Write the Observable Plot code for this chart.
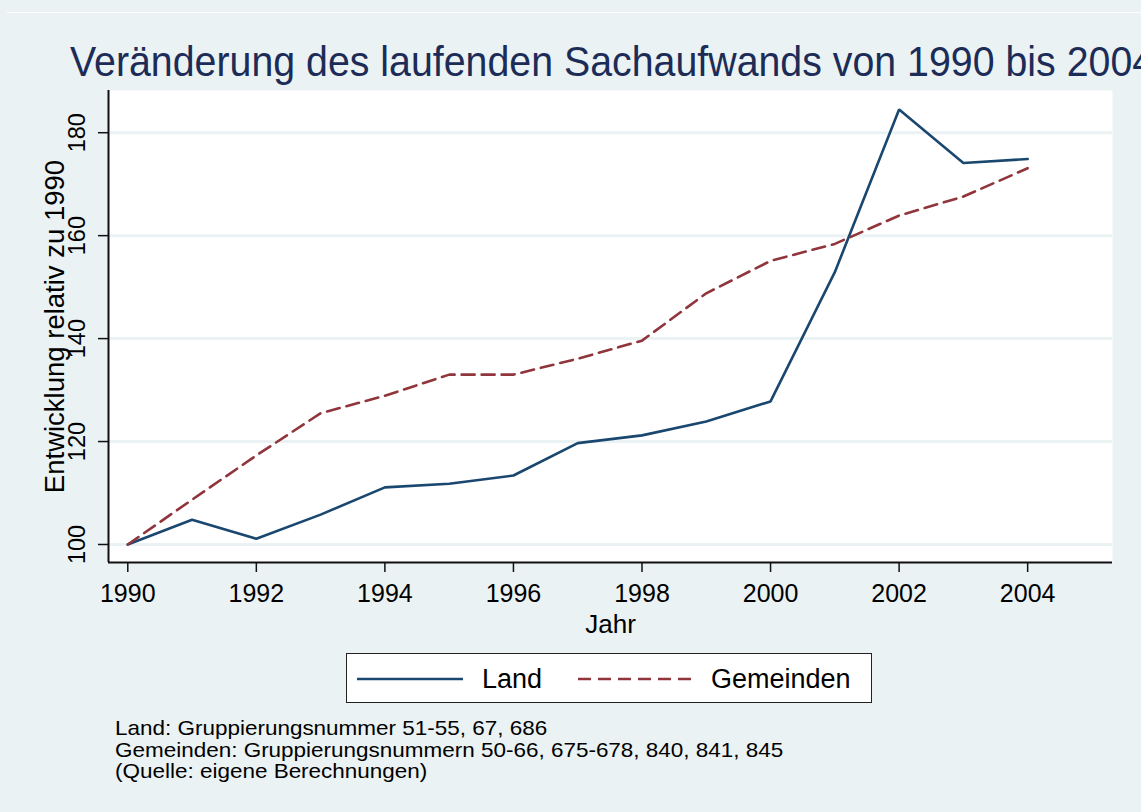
<!DOCTYPE html>
<html>
<head>
<meta charset="utf-8">
<script src="https://cdn.jsdelivr.net/npm/d3@7"></script>
<script src="https://cdn.jsdelivr.net/npm/@observablehq/plot@0.6"></script>
<style>
  html, body { margin: 0; padding: 0; background: #ffffff; }
  #wrap { position: relative; width: 1148px; height: 812px; overflow: hidden; background: #ffffff; font-family: "Liberation Sans", Arial, Helvetica, sans-serif; }
  #bg { position: absolute; left: 0; top: 0; width: 1141px; height: 812px; background: #EAF2F3; }
  #topline { position: absolute; left: 7px; top: 12px; width: 1134px; height: 1px; background: #ffffff; }
  #chart { position: absolute; left: 0; top: 0; }
  #titleclip { position: absolute; left: 0; top: 0; width: 1141px; height: 90px; overflow: hidden; }
  #title { position: absolute; left: 70px; top: 41px; white-space: nowrap; font-size: 42px; color: #1C2C57; transform: scaleX(0.936); transform-origin: left top; line-height: 1; }
  #legend { position: absolute; left: 346px; top: 653px; width: 524px; height: 48px; background: #fff; border: 1.5px solid #222; }
  #legend svg { position: absolute; left: 0; top: 0; }
  #legend .lab { position: absolute; top: 12px; font-size: 27px; color: #000; line-height: 1; white-space: nowrap; }
  #caption { position: absolute; left: 115px; top: 717px; font-size: 21px; line-height: 21.5px; color: #000; white-space: nowrap; transform: scaleX(1.07); transform-origin: left top; }
</style>
</head>
<body>
<div id="wrap">
  <div id="bg"></div>
  <div id="topline"></div>
  <div id="titleclip"><div id="title"></div></div>
  <div id="chart"></div>
  <div id="legend"></div>
  <div id="caption"></div>
</div>
<script>
// ---- data ----
const titleText = "Veränderung des laufenden Sachaufwands von 1990 bis 2004";
const yLabel = "Entwicklung relativ zu 1990";
const xLabel = "Jahr";
const years = [1990, 1991, 1992, 1993, 1994, 1995, 1996, 1997, 1998, 1999, 2000, 2001, 2002, 2003, 2004];
const land = [100, 104.8, 101.1, 105.8, 111.1, 111.8, 113.4, 119.7, 121.2, 123.9, 127.8, 152.9, 184.5, 174.1, 174.9];
const gemeinden = [100, 108.7, 117.3, 125.5, 128.9, 133.0, 133.0, 136.1, 139.6, 148.8, 155.1, 158.4, 163.9, 167.6, 173.1];
const seriesNames = ["Land", "Gemeinden"];
const seriesColors = ["#1A476F", "#90353B"];
const xTicks = [1990, 1992, 1994, 1996, 1998, 2000, 2002, 2004];
const yTicks = [100, 120, 140, 160, 180];
const captionLines = [
  "Land: Gruppierungsnummer 51-55, 67, 686",
  "Gemeinden: Gruppierungsnummern 50-66, 675-678, 840, 841, 845",
  "(Quelle: eigene Berechnungen)"
];

// ---- build ----
const xDomain = [1989.7, 2005.32];
const yDomain = [96.5, 188.2];
const landData = years.map((y, i) => ({year: y, value: land[i]}));
const gemData = years.map((y, i) => ({year: y, value: gemeinden[i]}));

document.getElementById("title").textContent = titleText;

const chart = Plot.plot({
  width: 1148,
  height: 812,
  marginLeft: 108,
  marginRight: 36,
  marginTop: 90,
  marginBottom: 250,
  style: {background: "transparent", fontFamily: "'Liberation Sans', Arial, Helvetica, sans-serif", color: "#000", overflow: "visible"},
  x: {domain: xDomain},
  y: {domain: yDomain},
  marks: [
    Plot.frame({fill: "white", stroke: "none"}),
    Plot.ruleY(yTicks, {stroke: "#EAF2F3", strokeWidth: 3}),
    Plot.lineY(landData, {x: "year", y: "value", stroke: seriesColors[0], strokeWidth: 2.6, strokeLinejoin: "miter"}),
    Plot.lineY(gemData, {x: "year", y: "value", stroke: seriesColors[1], strokeWidth: 2.6, strokeDasharray: "13,7", strokeLinejoin: "miter"}),
    Plot.ruleX([xDomain[0]], {stroke: "#111", strokeWidth: 2}),
    Plot.ruleY([yDomain[0]], {stroke: "#111", strokeWidth: 2}),
    Plot.axisX({ticks: xTicks, tickFormat: d => String(d), tickSize: 10, tickPadding: 12, fontSize: 25, label: null, strokeWidth: 1.5, stroke: "#111"}),
    Plot.axisY({ticks: yTicks, tickFormat: d => String(d), tickSize: 10, tickPadding: 14, tickRotate: -90, fontSize: 23.5, label: null, strokeWidth: 1.5, stroke: "#111"}),
    Plot.text([yLabel], {frameAnchor: "left", rotate: -90, dx: -45, textAnchor: "middle", lineAnchor: "bottom", fontSize: 27.5, fill: "#000"}),
    Plot.text([xLabel], {frameAnchor: "bottom", dy: 70, textAnchor: "middle", lineAnchor: "bottom", fontSize: 26, fill: "#000"})
  ]
});
document.getElementById("chart").appendChild(chart);

// legend
const legend = document.getElementById("legend");
const ns = "http://www.w3.org/2000/svg";
const lsvg = document.createElementNS(ns, "svg");
lsvg.setAttribute("width", 524);
lsvg.setAttribute("height", 48);
const sampleX = [[10, 116], [231, 351]];
const labelX = [135, 364];
seriesNames.forEach((name, i) => {
  const ln = document.createElementNS(ns, "line");
  ln.setAttribute("x1", sampleX[i][0]);
  ln.setAttribute("x2", sampleX[i][1]);
  ln.setAttribute("y1", 25);
  ln.setAttribute("y2", 25);
  ln.setAttribute("stroke", seriesColors[i]);
  ln.setAttribute("stroke-width", 2.6);
  if (i === 1) ln.setAttribute("stroke-dasharray", "13,7");
  lsvg.appendChild(ln);
  const lab = document.createElement("div");
  lab.className = "lab";
  lab.style.left = labelX[i] + "px";
  lab.textContent = name;
  legend.appendChild(lab);
});
legend.appendChild(lsvg);

// caption
const cap = document.getElementById("caption");
captionLines.forEach(t => {
  const d = document.createElement("div");
  d.textContent = t;
  cap.appendChild(d);
});
</script>
</body>
</html>
